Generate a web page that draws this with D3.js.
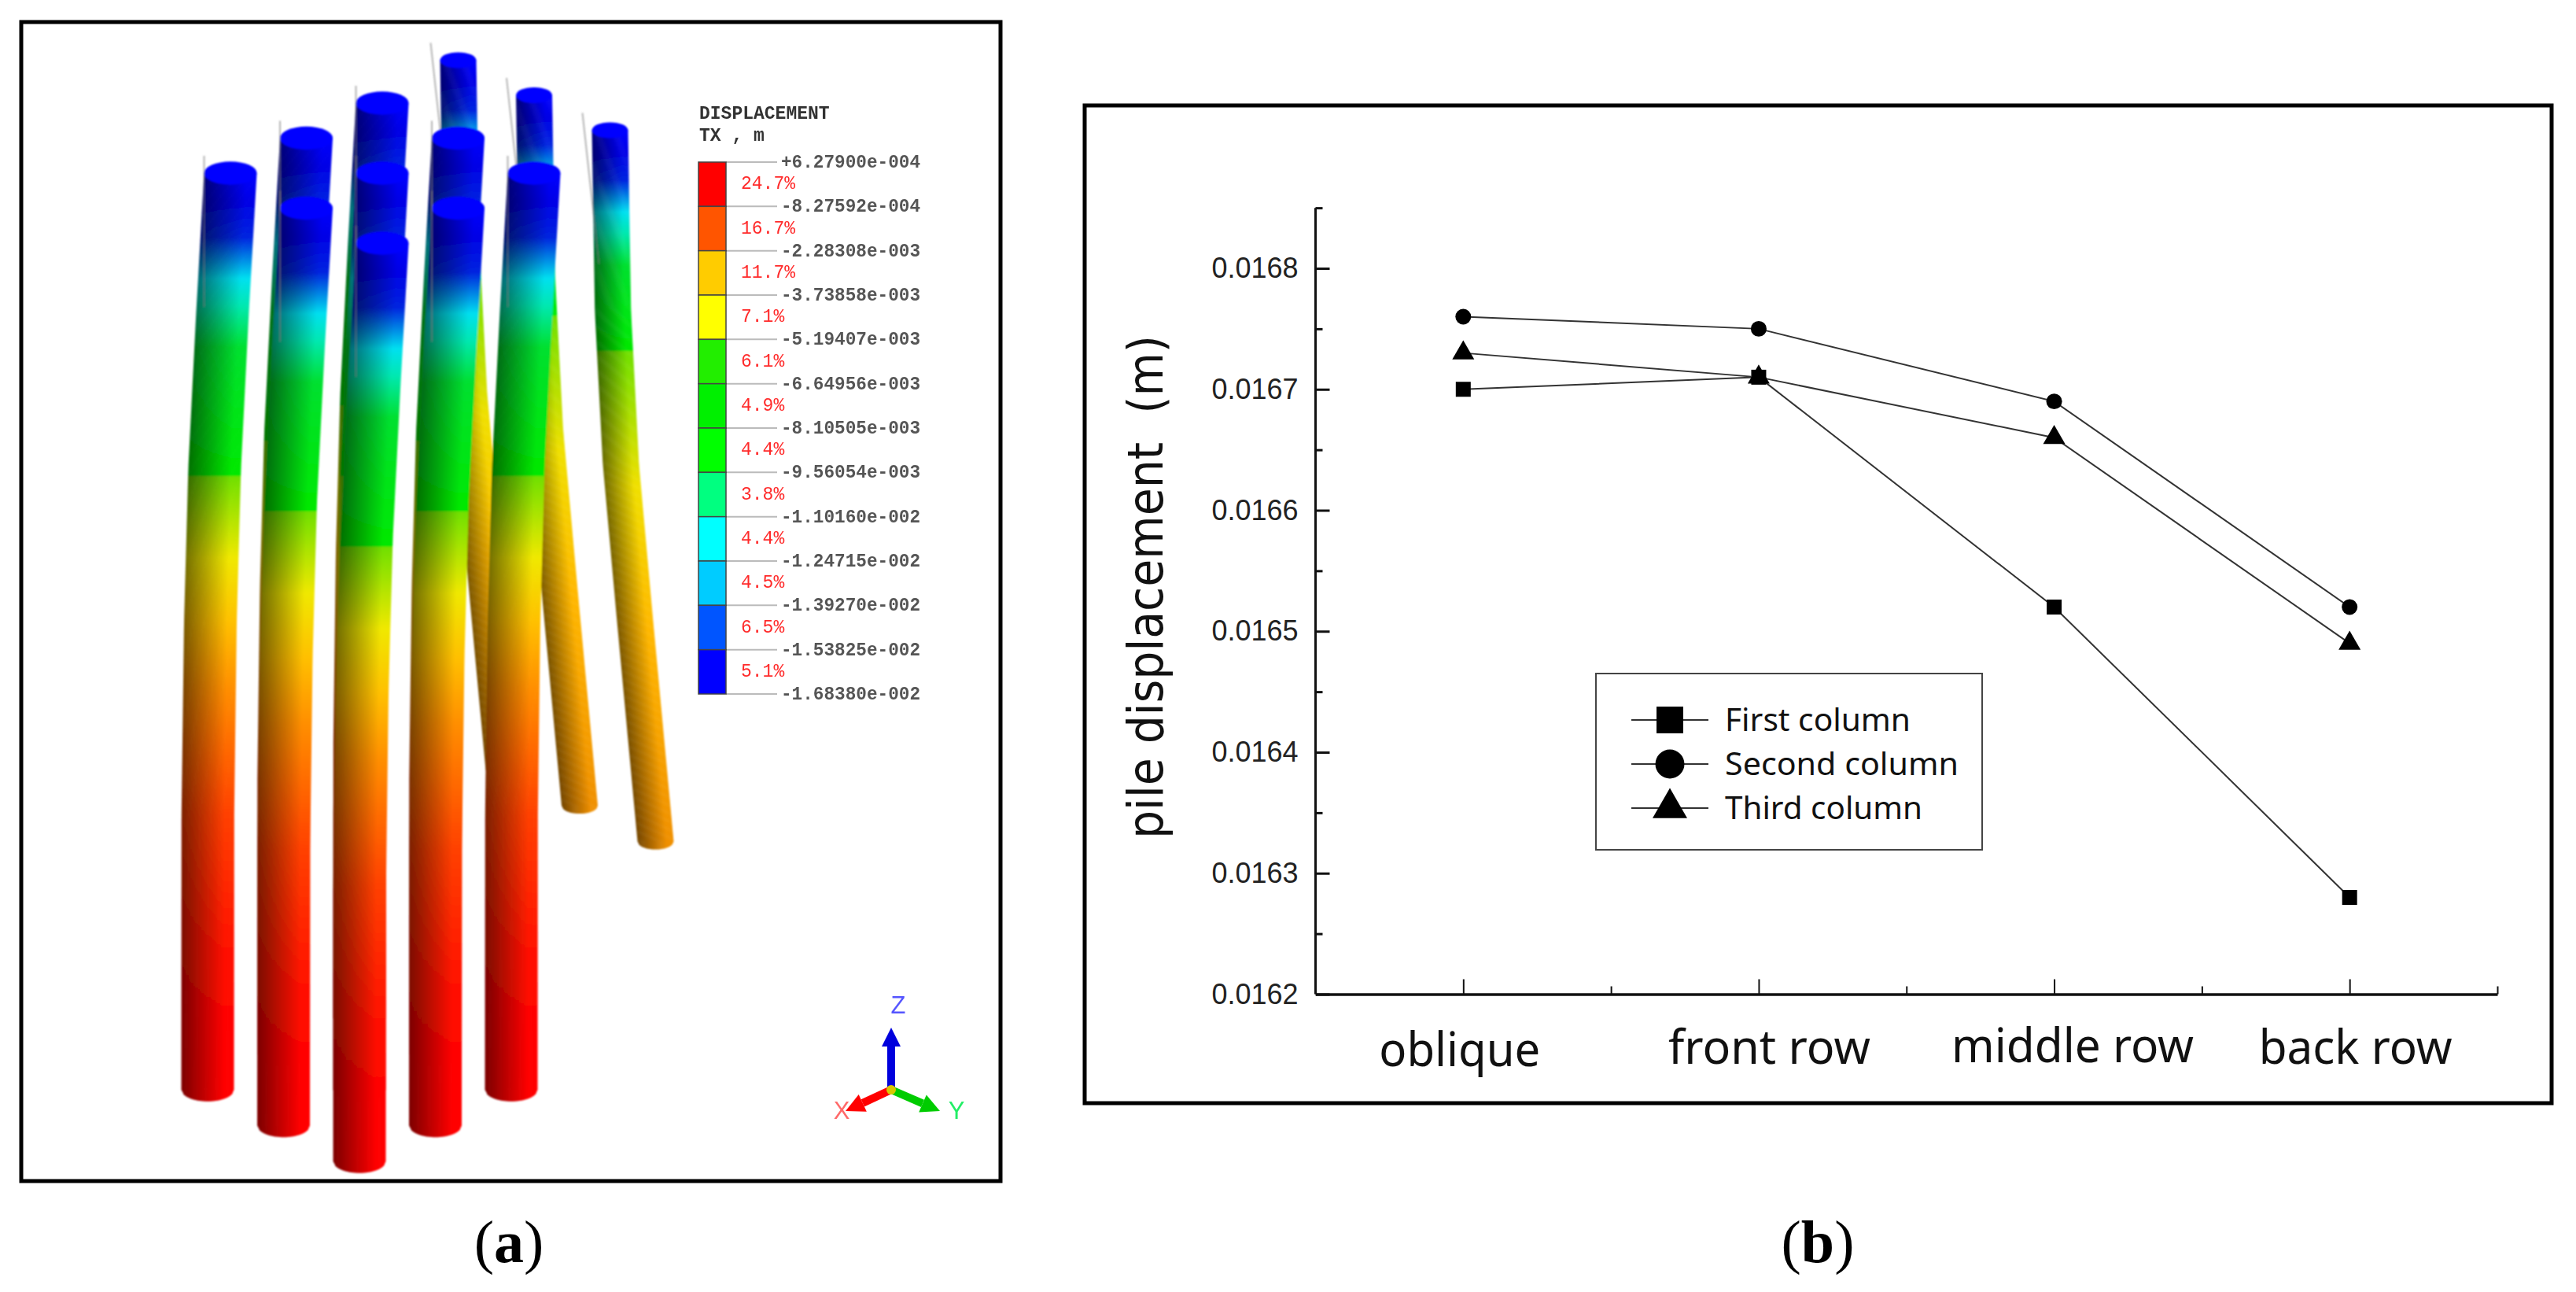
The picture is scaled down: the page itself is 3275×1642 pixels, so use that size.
<!DOCTYPE html>
<html lang="en">
<head>
    <meta charset="UTF-8">
    <title>Pile displacement</title>
    <script src="https://d3js.org/d3.v7.min.js"></script>
    <style>
        body { margin: 0; background: #fff; }
        svg { display: block; }
        .mono { font-family: "Liberation Mono", monospace; }
        .axis path, .axis line { stroke: #111; }
        .axis text { font-family: "Liberation Sans", sans-serif; font-size: 36px; fill: #222; }
    </style>
</head>
<body>
    <svg id="chart" width="3275" height="1642"></svg>

    <script>
        // (b) line chart
        const categories = ["oblique", "front row", "middle row", "back row"];
        const firstColumn = [0.01670, 0.01671, 0.01652, 0.01628];
        const secondColumn = [0.01676, 0.01675, 0.01669, 0.01652];
        const thirdColumn = [0.01673, 0.01671, 0.01666, 0.01649];
        const seriesNames = ["First column", "Second column", "Third column"];
        const yMajorTicks = [0.0162, 0.0163, 0.0164, 0.0165, 0.0166, 0.0167, 0.0168];
        const yMinorTicks = [0.01625, 0.01635, 0.01645, 0.01655, 0.01665, 0.01675, 0.01685];
        const xMajorTicks = [1, 2, 3, 4];
        const xMinorTicks = [1.5, 2.5, 3.5, 4.5];

        // (a) contour legend, top to bottom
        const contourValues = ["+6.27900e-004", "-8.27592e-004", "-2.28308e-003", "-3.73858e-003", "-5.19407e-003",
            "-6.64956e-003", "-8.10505e-003", "-9.56054e-003", "-1.10160e-002", "-1.24715e-002",
            "-1.39270e-002", "-1.53825e-002", "-1.68380e-002"];
        const contourShares = ["24.7%", "16.7%", "11.7%", "7.1%", "6.1%", "4.9%", "4.4%", "3.8%", "4.4%", "4.5%", "6.5%", "5.1%"];
        const contourColors = ["#ff0000", "#ff5500", "#ffcc00", "#ffff00", "#22ee00", "#00f000",
            "#00ff00", "#00ff80", "#00ffff", "#00ccff", "#0055ff", "#0000ff"];

        // (a) pile group: grid place of every pile, drawn far to near
        const pileCol = [3, 3, 3, 2, 2, 1, 2, 1, 0, 0, 1, 0];
        const pileRow = [0, 1, 2, 0, 1, 0, 2, 1, 0, 1, 2, 2];

        // colour along a pile, t = 0 at the head and 1 at the toe
        const rampStops = [0, 0.03, 0.07, 0.09, 0.115, 0.145, 0.19, 0.33, 0.331, 0.42, 0.49, 0.56, 0.70, 0.85, 0.95, 1];
        const rampColors = ["#0000ff", "#0000e6", "#0024e0", "#0078e4", "#00e0f0", "#00e8b0", "#00e030", "#00e800", "#70e000",
            "#f0e800", "#ffc000", "#ff9000", "#ff4000", "#ff1000", "#ff0000", "#ff0000"];
        const obliqueStops = [0, 0.03, 0.07, 0.09, 0.115, 0.145, 0.19, 0.31, 0.311, 0.5, 0.7, 1];
        const obliqueColors = ["#0000ff", "#0000e6", "#0024e0", "#0078e4", "#00e0f0", "#00e8b0", "#00e030", "#00e800", "#70e000",
            "#f0e000", "#ffb800", "#f09000"];

        // share of the head sway left at t
        const swayStops = [0, 0.153, 0.32, 0.49, 0.7, 1];
        const swayShare = [1, 0.65, 0.31, 0.12, 0.01, 0];
        const obliqueSwayStops = [0, 0.255, 0.47, 0.69, 1];
        const obliqueSwayShare = [1, 0.935, 0.76, 0.45, 0];

        const triadNames = ["Z", "X", "Y"];
        const triadColors = ["#0000dd", "#ff0000", "#00cc00"];
        const triadLabelColors = ["#5555ff", "#ff6a6a", "#22ee66"];
        const triadDx = [0, -58, 62];
        const triadDy = [-79, 27, 27];

        const svg = d3.select("#chart");

        function frame(x, y, w, h) {
            svg.append("rect")
                .attr("x", x).attr("y", y).attr("width", w).attr("height", h)
                .attr("fill", "none").attr("stroke", "#000").attr("stroke-width", 5);
        }
        frame(27, 28, 1245, 1473);
        frame(1379, 134, 1865, 1268);

        function caption(letter, x) {
            const t = svg.append("text")
                .attr("x", x).attr("y", 1604)
                .attr("text-anchor", "middle")
                .attr("font-family", "Liberation Serif, serif")
                .attr("font-size", 76)
                .attr("fill", "#000");
            t.append("tspan").text("(");
            t.append("tspan").attr("font-weight", "bold").text(letter);
            t.append("tspan").text(")");
        }
        caption("a", 647);
        caption("b", 2311);

        // ---------- panel (a) ----------
        const defs = svg.append("defs");
        defs.append("filter").attr("id", "soft")
            .append("feGaussianBlur").attr("stdDeviation", 0.9);
        defs.append("filter").attr("id", "softText")
            .append("feGaussianBlur").attr("stdDeviation", 0.5);
        const piles = svg.append("g").attr("filter", "url(#soft)");

        const headX = d3.scaleLinear().domain([0, 5]).range([293, 775.5]);
        const headY = d3.scaleLinear().domain([-3, 2]).range([86.5, 309]);
        const toeY = d3.scaleLinear().domain([-3, 2]).range([1248.5, 1476]);
        const colorAlong = d3.scaleLinear().domain(rampStops).range(rampColors).clamp(true);
        const colorOblique = d3.scaleLinear().domain(obliqueStops).range(obliqueColors).clamp(true);
        const swayAlong = d3.scaleLinear().domain(swayStops).range(swayShare);
        const swayOblique = d3.scaleLinear().domain(obliqueSwayStops).range(obliqueSwayShare);
        const pathLine = d3.line();
        const stripCount = 24;
        const stepCount = 60;

        function shade(c, f) {
            const k = 0.5 + 0.5 * Math.min(1, f / 0.8);
            const rgb = d3.rgb(c);
            return d3.rgb(rgb.r * k, rgb.g * k, rgb.b * k).formatRgb();
        }

        pileCol.forEach((col, i) => {
            const row = pileRow[i];
            const oblique = col === 3;
            const w = oblique ? 46 : 67;
            const ry = w * 0.22;
            const xTop = headX(col + row);
            const yTop = headY(row - col) - (oblique ? 10 : 0);
            const yEnd = toeY(row - col) - (oblique ? 270 : 0);
            const sway = oblique ? -58 : 29;
            const xEnd = xTop - sway;
            const stops = oblique ? obliqueStops : rampStops;
            const color = oblique ? colorOblique : colorAlong;
            const share = oblique ? swayOblique : swayAlong;
            const center = t => xEnd + sway * share(t);
            const yAt = t => yTop + (yEnd - yTop) * t;

            d3.range(stripCount).forEach(s => {
                const f0 = s / stripCount;
                const f1 = (s + 1.25) / stripCount;
                const grad = defs.append("linearGradient")
                    .attr("id", `pile${i}s${s}`)
                    .attr("gradientUnits", "userSpaceOnUse")
                    .attr("x1", 0).attr("x2", 0)
                    .attr("y1", yTop).attr("y2", yEnd);
                grad.selectAll("stop").data(stops).enter().append("stop")
                    .attr("offset", d => d)
                    .attr("stop-color", d => shade(color(d), f0));

                const fs = d3.range(stepCount + 1).map(k => k / stepCount);
                const edge = f => center => center - w / 2 + w * Math.min(f, 1);
                const left = fs.map(t => [edge(f0)(center(t)), yAt(t)]);
                const right = fs.map(t => [edge(f1)(center(t)), yAt(t)]).reverse();
                const arc = f => yEnd + ry * Math.sqrt(Math.max(0, 1 - Math.pow(2 * Math.min(f, 1) - 1, 2)));
                const points = left
                    .concat([[edge(f0)(center(1)), arc(f0)], [edge(f1)(center(1)), arc(f1)]])
                    .concat(right);
                piles.append("path")
                    .attr("d", pathLine(points) + "Z")
                    .attr("fill", `url(#pile${i}s${s})`);
            });

            piles.append("ellipse")
                .attr("cx", xTop).attr("cy", yTop)
                .attr("rx", w / 2).attr("ry", ry)
                .attr("fill", "#0000ff");

            // undeformed position of the pile
            const gx = xTop - w / 2 - (oblique ? 12 : 0);
            piles.append("line")
                .attr("x1", gx).attr("y1", yTop - 22)
                .attr("x2", gx + (oblique ? 21 : 0)).attr("y2", yTop + 170)
                .attr("stroke", "#777").attr("stroke-opacity", 0.55).attr("stroke-width", 2);
        });

        const bandY = d3.scaleBand().domain(contourColors.map((c, i) => i)).range([206, 882]);
        const legendA = svg.append("g").attr("filter", "url(#softText)");

        legendA.selectAll(".lead").data(contourValues).enter().append("line")
            .attr("x1", 923).attr("x2", 988)
            .attr("y1", (d, i) => 206 + bandY.step() * i)
            .attr("y2", (d, i) => 206 + bandY.step() * i)
            .attr("stroke", "#bbb").attr("stroke-width", 2);

        legendA.selectAll(".band").data(contourColors).enter().append("rect")
            .attr("x", 888).attr("width", 35)
            .attr("y", (d, i) => bandY(i))
            .attr("height", bandY.bandwidth())
            .attr("fill", d => d)
            .attr("stroke", "#444").attr("stroke-width", 1.5);

        legendA.selectAll(".val").data(contourValues).enter().append("text")
            .attr("class", "mono")
            .attr("x", 993)
            .attr("y", (d, i) => 206 + bandY.step() * i + 7)
            .attr("font-size", 23)
            .attr("font-weight", "bold")
            .attr("textLength", 177)
            .attr("lengthAdjust", "spacingAndGlyphs")
            .attr("fill", "#555")
            .text(d => d);

        legendA.selectAll(".share").data(contourShares).enter().append("text")
            .attr("class", "mono")
            .attr("x", 942)
            .attr("y", (d, i) => bandY(i) + bandY.bandwidth() / 2 + 6)
            .attr("font-size", 23)
            .attr("fill", "#ff2a2a")
            .text(d => d);

        [["DISPLACEMENT", 151], ["TX , m", 179]].forEach(([txt, y]) => {
            legendA.append("text")
                .attr("class", "mono")
                .attr("x", 889).attr("y", y)
                .attr("font-size", 23)
                .attr("font-weight", "bold")
                .attr("fill", "#333")
                .text(txt);
        });

        // axis triad
        const triad = svg.append("g").attr("transform", "translate(1133,1385)").attr("filter", "url(#softText)");
        const labelOffsetX = [9, -63, 83];
        const labelOffsetY = [-97, 37, 37];
        triadNames.forEach((name, i) => {
            const dx = triadDx[i], dy = triadDy[i];
            const len = Math.hypot(dx, dy);
            const ux = dx / len, uy = dy / len;
            const baseX = dx - ux * 24, baseY = dy - uy * 24;
            triad.append("line")
                .attr("x1", 0).attr("y1", 0).attr("x2", baseX).attr("y2", baseY)
                .attr("stroke", triadColors[i]).attr("stroke-width", 10);
            triad.append("path")
                .attr("d", pathLine([[dx, dy], [baseX - uy * 12, baseY + ux * 12], [baseX + uy * 12, baseY - ux * 12]]) + "Z")
                .attr("fill", triadColors[i]);
            triad.append("text")
                .attr("x", labelOffsetX[i]).attr("y", labelOffsetY[i])
                .attr("text-anchor", "middle")
                .attr("font-family", "Liberation Sans, sans-serif")
                .attr("font-size", 31)
                .attr("fill", triadLabelColors[i])
                .text(name);
        });
        triad.append("circle").attr("r", 6).attr("fill", "#d8c800");

        // ---------- panel (b) ----------
        const x = d3.scaleLinear().domain([0.5, 4.5]).range([1672.5, 3175]);
        const y = d3.scaleLinear().domain([0.0162, 0.0168]).range([1263.5, 341]);

        const yAxis = svg.append("g")
            .attr("class", "axis")
            .attr("transform", `translate(${x(0.5)},0)`)
            .call(d3.axisLeft(y)
                .tickValues(yMajorTicks)
                .tickFormat(d3.format(".4f"))
                .tickSize(-18)
                .tickSizeOuter(0)
                .tickPadding(22));
        yAxis.selectAll("line").attr("stroke-width", 3);
        yAxis.select(".domain").attr("d", `M0,${y(0.01685)}V${y(0.0162)}`).attr("stroke-width", 3);

        svg.append("g")
            .attr("class", "axis")
            .attr("transform", `translate(${x(0.5)},0)`)
            .call(d3.axisLeft(y).tickValues(yMinorTicks).tickFormat("").tickSize(-9).tickSizeOuter(0))
            .call(g => g.select(".domain").remove())
            .selectAll("line").attr("stroke-width", 3);

        const xAxis = svg.append("g")
            .attr("class", "axis")
            .attr("transform", `translate(0,${y(0.0162)})`)
            .call(d3.axisBottom(x)
                .tickValues(xMajorTicks)
                .tickFormat(d => categories[d - 1])
                .tickSize(-19)
                .tickSizeOuter(0));
        xAxis.select(".domain").attr("stroke-width", 3.5);
        xAxis.selectAll("line").attr("stroke-width", 2);

        const labelShift = [-5, 13, 23, 7];
        const labelDrop = [91, 88, 86, 88];
        const labelWidth = [205, 257, 308, 246];
        xAxis.selectAll("text")
            .attr("dy", null)
            .attr("x", (d, i) => labelShift[i])
            .attr("y", (d, i) => labelDrop[i])
            .style("font-family", "'Noto Sans', sans-serif")
            .style("font-size", "60px")
            .style("fill", "#111")
            .attr("textLength", (d, i) => labelWidth[i])
            .attr("lengthAdjust", "spacingAndGlyphs");

        svg.append("g")
            .attr("class", "axis")
            .attr("transform", `translate(0,${y(0.0162)})`)
            .call(d3.axisBottom(x).tickValues(xMinorTicks).tickFormat("").tickSize(-10).tickSizeOuter(0))
            .call(g => g.select(".domain").remove())
            .selectAll("line").attr("stroke-width", 2);

        svg.append("text")
            .attr("transform", "translate(1478,746) rotate(-90)")
            .attr("text-anchor", "middle")
            .attr("font-family", "DejaVu Sans, sans-serif")
            .attr("font-size", 62)
            .attr("textLength", 640)
            .attr("lengthAdjust", "spacingAndGlyphs")
            .attr("fill", "#111")
            .text("pile displacement\u00a0\u00a0(m)");

        const allSeries = [firstColumn, secondColumn, thirdColumn];
        const symbols = [d3.symbolSquare, d3.symbolCircle, d3.symbolTriangle];
        const markerSize = [361, 314, 340];
        const legendMarkerSize = [1156, 1075, 838];
        const line = d3.line().x((d, i) => x(i + 1)).y(d => y(d));

        allSeries.forEach((values, s) => {
            svg.append("path")
                .attr("d", line(values))
                .attr("fill", "none")
                .attr("stroke", "#333")
                .attr("stroke-width", 2);
            svg.selectAll(`.m${s}`).data(values).enter().append("path")
                .attr("class", `m${s}`)
                .attr("d", d3.symbol(symbols[s], markerSize[s]))
                .attr("transform", (d, i) => `translate(${x(i + 1)},${y(d)})`)
                .attr("fill", "#000");
        });

        const legendB = svg.append("g");
        legendB.append("rect")
            .attr("x", 2029).attr("y", 856)
            .attr("width", 491).attr("height", 224)
            .attr("fill", "#fff")
            .attr("stroke", "#444").attr("stroke-width", 2);

        const legendY = d3.scalePoint().domain(seriesNames).range([915, 1027]);
        const legendTextWidth = [236, 297, 251];
        seriesNames.forEach((name, s) => {
            legendB.append("line")
                .attr("x1", 2074).attr("x2", 2172)
                .attr("y1", legendY(name)).attr("y2", legendY(name))
                .attr("stroke", "#333").attr("stroke-width", 2);
            legendB.append("path")
                .attr("d", d3.symbol(symbols[s], legendMarkerSize[s]))
                .attr("transform", `translate(2123,${legendY(name)})`)
                .attr("fill", "#000");
            legendB.append("text")
                .attr("x", 2193)
                .attr("y", legendY(name) + 14)
                .attr("font-family", "'Noto Sans', sans-serif")
                .attr("font-size", 40)
                .attr("textLength", legendTextWidth[s])
                .attr("lengthAdjust", "spacingAndGlyphs")
                .attr("fill", "#111")
                .text(name);
        });
    </script>
</body>
</html>
